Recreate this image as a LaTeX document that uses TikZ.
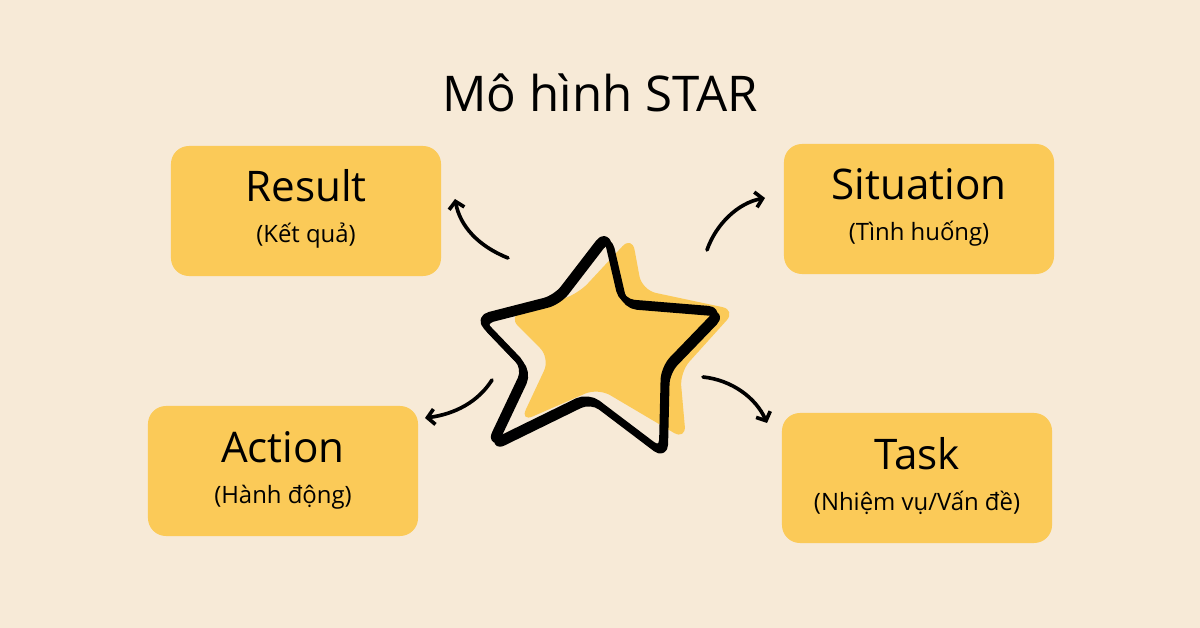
\documentclass[tikz,border=0pt]{standalone}
\usepackage{fontspec}
\setmainfont{Open Sans}
\usetikzlibrary{arrows.meta}
\definecolor{cream}{RGB}{247,234,215}
\definecolor{mustard}{RGB}{251,202,88}
\tikzset{
	box/.style={fill=mustard, rounded corners=0.45cm, minimum width=6.75cm, minimum height=3.25cm, inner sep=0pt},
	head/.style={font=\fontsize{30}{36}\selectfont, anchor=base},
	sub/.style={font=\fontsize{17}{20}\selectfont, anchor=base},
	curl/.style={line width=2.6pt, -{Straight Barb[length=5pt,width=11pt]}}
}
\begin{document}
\begin{tikzpicture}[x=0.025cm,y=-0.025cm,line join=round,line cap=round]
	\fill[cream] (0,0) rectangle (1200,628);
	\useasboundingbox (0,0) rectangle (1200,628);
	\node[anchor=base, font=\fontsize{35}{42}\selectfont] (title) at (600,112) {Mô hình STAR};
	% the four boxes
	\foreach \n/\x/\y/\h/\s in {R/306/211/Result/{(Kết quả)},S/919/209/Situation/{(Tình huống)},A/283/471/Action/{(Hành động)},T/917/478/Task/{(Nhiệm vụ/Vấn đề)}}{
		\node[box] (\n) at (\x,\y) {};
		\path (\n) ++(0,-9) node[head] (\n-h) {\h};
		\path (\n) ++(0,32) node[sub] (\n-s) {\s};
	};
	% star
	\fill[mustard, rounded corners=0.35cm] (632,236) -- (642,290) -- (736,310) -- (680,372) -- (686,440)
		-- (598,388) -- (520,422) -- (550,358) -- (508,316) -- (578,294) -- cycle;
	\draw[line width=4.5pt, rounded corners=0.3cm] (606,233) -- (622,302) -- (720,310) -- (664,368) -- (662,452)
		-- (588,396) -- (490,444) -- (526,368) -- (478,318) -- (556,298) -- cycle;
	\draw[line width=4pt, rounded corners=0.3cm, shift={(3,4)}] (606,233) -- (622,302) -- (720,310) -- (664,368) -- (662,452)
		-- (588,396) -- (490,444) -- (526,368) -- (478,318) -- (556,298) -- cycle;
	% arrows
	\path 
	(508,258) coordinate (r0) (455,199) coordinate (r1)
	(707,250) coordinate (s0) (765,198) coordinate (s1)
	(492,380) coordinate (a0) (425,418) coordinate (a1)
	(703,377) coordinate (t0) (767,423) coordinate (t1)
	;
	\draw[curl] (r0) .. controls (478,246) and (460,226) .. (r1);
	\draw[curl] (s0) .. controls (716,224) and (738,203) .. (s1);
	\draw[curl] (a0) .. controls (478,402) and (455,414) .. (a1);
	\draw[curl] (t0) .. controls (732,380) and (756,398) .. (t1);
\end{tikzpicture}
\end{document}
